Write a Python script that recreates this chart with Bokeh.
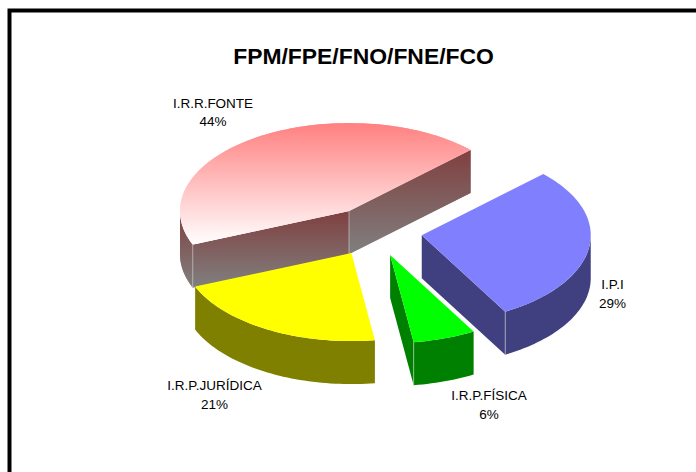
import math
from bokeh.plotting import figure
from bokeh.embed import file_html
from bokeh.resources import INLINE
from bokeh.core.properties import value

title_text = "FPM/FPE/FNO/FNE/FCO"
categories = ["I.P.I", "I.R.P.FÍSICA", "I.R.P.JURÍDICA", "I.R.R.FONTE"]
shares = [29, 6, 21, 44]
top_colors = ["#8080FF", "#00FF00", "#FFFF00", None]
side_colors = ["#404080", "#008000", "#808000", None]
label_centres = [(612, 284), (488.5, 395), (214, 385), (212.5, 102.5)]

# projection of the tilted pie, in pixels
CX, CY, A, B, DEPTH, EXPLODE, FIRST_ANGLE = 374.4, 231.2, 169.0, 88.0, 43.0, 0.28, 46.0
RED_TOP = ((255, 128, 128), (255, 255, 255))
RED_SIDE = ((128, 64, 64), (128, 128, 128))
EDGE = "#d4d4d4"

p = figure(width=696, height=472, x_range=(0, 696), y_range=(472, 0),
           toolbar_location=None, output_backend="svg", min_border=0,
           x_axis_location=None, y_axis_location=None)
p.grid.visible = False
p.outline_line_color = None
p.background_fill_color = "white"
p.styles = {"position": "absolute", "left": "0px", "top": "0px"}


def clip_band(poly, lo, hi):
    def clip(pts, inside, cross):
        out = []
        for i, q in enumerate(pts):
            r = pts[(i + 1) % len(pts)]
            if inside(q):
                out.append(q)
            if inside(q) != inside(r):
                t = (cross - q[1]) / (r[1] - q[1])
                out.append((q[0] + t * (r[0] - q[0]), cross))
        return out
    pts = clip(poly, lambda q: q[1] >= lo, lo)
    if pts:
        pts = clip(pts, lambda q: q[1] <= hi, hi)
    return pts


def gradient_fill(poly, stops):
    ys = [q[1] for q in poly]
    y0, y1 = min(ys), max(ys)
    xs_all, ys_all, cols = [], [], []
    y = math.floor(y0)
    while y < y1:
        t = max(0.0, min(1.0, (y + 0.5 - y0) / (y1 - y0)))
        rgb = tuple(round(stops[0][k] + t * (stops[1][k] - stops[0][k])) for k in range(3))
        band = clip_band(poly, y, y + 2.0)
        if len(band) > 2:
            xs_all.append([q[0] for q in band])
            ys_all.append([q[1] for q in band])
            cols.append("#%02x%02x%02x" % rgb)
        y += 1
    p.patches(xs_all, ys_all, fill_color=cols, line_color=None)


def solid(poly, color):
    p.patch([q[0] for q in poly], [q[1] for q in poly], fill_color=color, line_color=None)


def edge(x, y):
    p.line([x, x], [y, y + DEPTH], line_color=EDGE, line_width=1, line_alpha=0.6)


total = sum(shares)
spans = []
theta = FIRST_ANGLE
for s in shares:
    spans.append((theta, theta + 360.0 * s / total))
    theta = spans[-1][1]

for idx in [3, 0, 2, 1]:
    ts, te = spans[idx]
    mid = math.radians((ts + te) / 2)
    ax = CX + EXPLODE * A * math.sin(mid)
    ay = CY - EXPLODE * B * math.cos(mid)

    def pt(deg, dz=0.0):
        r = math.radians(deg)
        return (ax + A * math.sin(r), ay - B * math.cos(r) + dz)

    n = max(4, int((te - ts) / 1.5))
    arc_deg = [ts + (te - ts) * k / n for k in range(n + 1)]
    top = [(ax, ay)] + [pt(d) for d in arc_deg]

    faces = []
    if math.sin(math.radians(ts)) < 0:
        faces.append([(ax, ay), pt(ts), pt(ts, DEPTH), (ax, ay + DEPTH)])
    if math.sin(math.radians(te)) > 0:
        faces.append([(ax, ay), pt(te), pt(te, DEPTH), (ax, ay + DEPTH)])
    rim = [d for d in arc_deg if math.cos(math.radians(d)) <= 0]
    if rim:
        lo, hi = max(ts, 90.0), min(te, 270.0)
        steps = max(2, int((hi - lo) / 1.5))
        rd = [lo + (hi - lo) * k / steps for k in range(steps + 1)]
        faces.append([pt(d) for d in rd] + [pt(d, DEPTH) for d in reversed(rd)])

    for f in faces:
        if side_colors[idx] is None:
            gradient_fill(f, RED_SIDE)
        else:
            solid(f, side_colors[idx])
    if top_colors[idx] is None:
        gradient_fill(top, RED_TOP)
    else:
        solid(top, top_colors[idx])

    # light seams between the side faces
    if math.sin(math.radians(te)) > 0 and math.cos(math.radians(te)) < 0:
        edge(*pt(te))
    if idx == 3:
        edge(ax, ay)
        edge(*pt(ts))

# frame
p.line([9, 9, 696], [472, 10, 10], line_color="black", line_width=4, line_join="miter")

# texts
p.text([363], [55.5], text=[title_text], text_font=value("Liberation Sans"), text_font_style="bold",
       text_font_size="22.9px", text_align="center", text_baseline="middle", text_color="black")
for name, s, (lx, ly) in zip(categories, shares, label_centres):
    p.text([lx, lx], [ly, ly + 18.5], text=[name, f"{s}%"], text_font=value("Liberation Sans"),
           text_font_size="13.5px", text_align="center", text_baseline="middle", text_color="black")

open("out.html", "w").write(file_html(p, INLINE))
